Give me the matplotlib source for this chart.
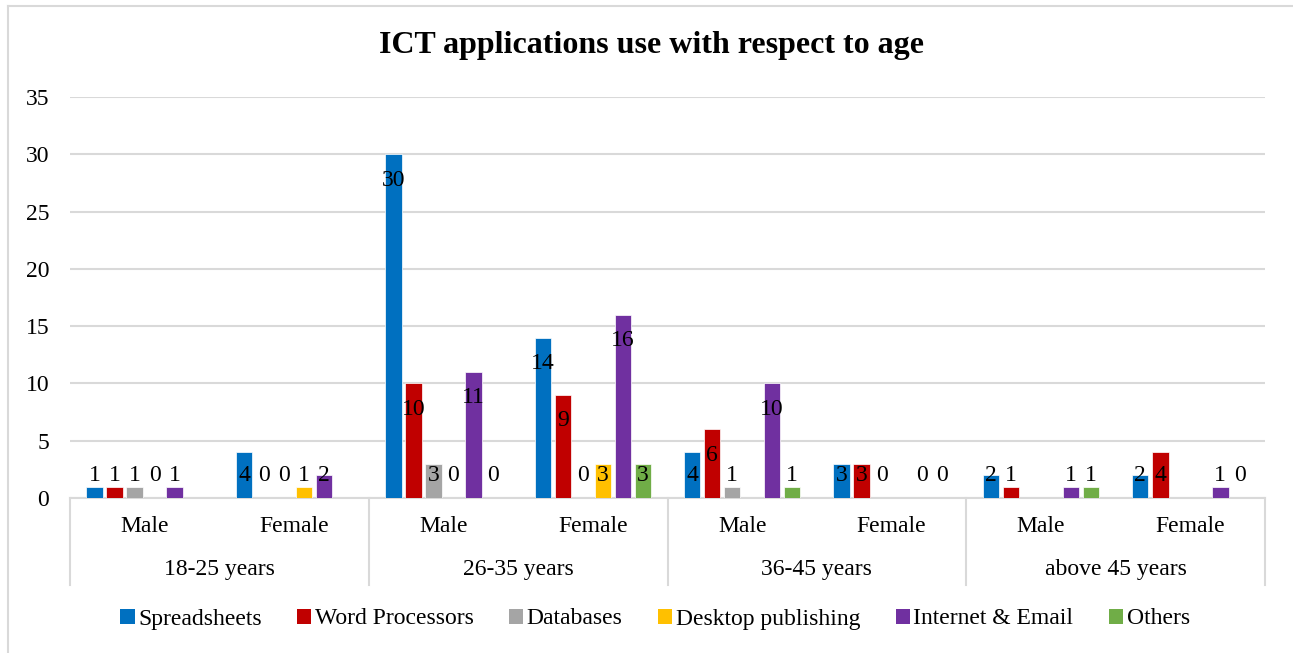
import numpy as np
import matplotlib
matplotlib.use("Agg")
import matplotlib.pyplot as plt
from matplotlib.patches import Patch
from matplotlib.lines import Line2D

plt.rcParams['font.family'] = ['Liberation Serif', 'DejaVu Serif']

age_groups = ["18-25 years", "26-35 years", "36-45 years", "above 45 years"]
genders = ["Male", "Female"]
series_names = ["Spreadsheets", "Word Processors", "Databases",
                "Desktop publishing", "Internet & Email", "Others"]
colors = ["#0070c0", "#c00000", "#a5a5a5", "#ffc000", "#7030a0", "#70ad47"]

nan = np.nan
# one row per series, one column per (age group, gender)
spreadsheets = [1, 4, 30, 14, 4, 3, 2, 2]
word_processors = [1, 0, 10, 9, 6, 3, 1, 4]
databases = [1, 0, 3, 0, 1, 0, nan, nan]
desktop_publishing = [0, 1, 0, 3, nan, nan, nan, nan]
internet_email = [1, 2, 11, 16, 10, 0, 1, 1]
others = [nan, nan, 0, 3, 1, 0, 1, 0]
values = [spreadsheets, word_processors, databases,
          desktop_publishing, internet_email, others]

fig = plt.figure(figsize=(12.93, 6.53), dpi=100)
ax = fig.add_axes([70 / 1293, 155 / 653, 1195 / 1293, 401 / 653])

n_cat = len(age_groups) * len(genders)
x = np.arange(n_cat) + 0.5
step = 0.134
width = 0.11
fs = 17

for i, (name, vals) in enumerate(zip(series_names, values)):
    vals = np.array(vals, dtype=float)
    xs = x + (i - 2.5) * step
    ax.bar(xs, np.nan_to_num(vals), width=width, color=colors[i],
           edgecolor="white", linewidth=0.5, zorder=3)
    for xi, v in zip(xs, vals):
        if np.isnan(v):
            continue
        ax.text(xi, max(v - 2.27, 1.95), f"{int(v)}", ha="center",
                va="center", fontsize=fs, color="black", zorder=4)

ax.set_xlim(0, n_cat)
ax.set_ylim(0, 35)
ax.set_yticks(range(0, 36, 5))
ax.tick_params(axis="y", length=0, pad=15, labelsize=fs)
ax.set_xticks([])
ax.grid(axis="y", color="#d9d9d9", linewidth=1.5, zorder=0)
for s in ["top", "right", "left"]:
    ax.spines[s].set_visible(False)
ax.spines["bottom"].set_color("#d9d9d9")
ax.spines["bottom"].set_linewidth(1.5)

# multi-level category axis
trans = ax.get_xaxis_transform()
for k in range(len(age_groups) + 1):
    ax.add_line(Line2D([2 * k, 2 * k], [0, -87 / 401], transform=trans,
                       color="#d9d9d9", linewidth=1.5, clip_on=False))
for j in range(n_cat):
    ax.text(x[j], -29 / 401, genders[j % 2], transform=trans,
            ha="center", va="center", fontsize=fs)
for k, g in enumerate(age_groups):
    ax.text(2 * k + 1, -72 / 401, g, transform=trans,
            ha="center", va="center", fontsize=fs)

fig.text(651 / 1293, 1 - 46 / 653, "ICT applications use with respect to age",
         ha="center", va="center", fontsize=23, fontweight="bold")

handles = [Patch(facecolor=c, edgecolor="none") for c in colors]
fig.legend(handles, series_names, loc="center", ncol=6,
           bbox_to_anchor=(655 / 1293, 1 - 619 / 653), frameon=False,
           fontsize=fs, handlelength=0.6, handleheight=0.6,
           handletextpad=0.15, columnspacing=1.5)

# chart border (left and top only visible)
fig.add_artist(Line2D([8 / 1293, 8 / 1293], [0, 1 - 6 / 653],
                      transform=fig.transFigure, color="#d9d9d9", linewidth=1.5))
fig.add_artist(Line2D([8 / 1293, 1], [1 - 6 / 653, 1 - 6 / 653],
                      transform=fig.transFigure, color="#d9d9d9", linewidth=1.5))

fig.savefig("out.png", dpi=100)
